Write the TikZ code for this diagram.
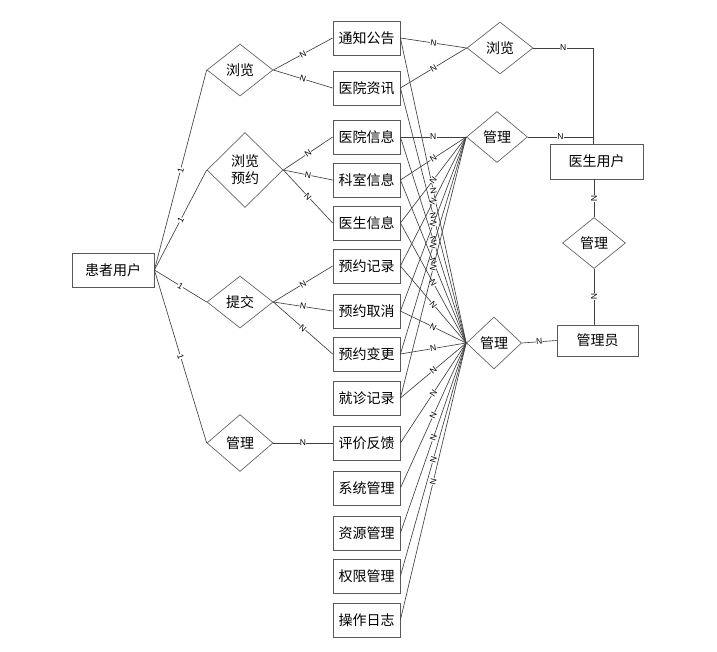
\documentclass[tikz,border=0pt]{standalone}
\usepackage{fontspec}
\setmainfont{Noto Sans CJK SC}
\newfontfamily\lblfont{Liberation Sans}
\usetikzlibrary{shapes.geometric}

\begin{document}
\begin{tikzpicture}[
  x=1pt, y=-1pt,
  every node/.style={font=\fontsize{14}{16}\selectfont},
  entity/.style={draw=black!65, line width=0.8pt, minimum width=67pt, minimum height=34pt, inner sep=0pt},
  rel/.style={diamond, draw=black!60, line width=0.7pt, minimum width=66pt, minimum height=52pt, inner sep=0pt, align=center},
  link/.style={draw=black!75, line width=0.65pt},
  card/.style={font=\lblfont\fontsize{8.5}{9}\selectfont, fill=white, inner sep=0.3pt, sloped, pos=0.5}
]
\useasboundingbox (0,0) rectangle (717,652);

\node[entity, minimum width=82pt](patient) at (113,270){患者用户};

\node[rel](browseP) at (240,70){浏览};
\node[rel, minimum width=76pt, minimum height=75pt](browseB) at (245,170){浏览\\[1pt]预约};
\node[rel](submit) at (240,302){提交};
\node[rel, minimum height=57pt](manageP) at (240,443){管理};

\node[entity](notice) at (366.5,38){通知公告};
\node[entity](news) at (366.5,88){医院资讯};
\node[entity](hospinfo) at (366.5,137){医院信息};
\node[entity](deptinfo) at (366.5,180){科室信息};
\node[entity](docinfo) at (366.5,223){医生信息};
\node[entity](apptrec) at (366.5,266){预约记录};
\node[entity](apptcancel) at (366.5,311){预约取消};
\node[entity](apptchange) at (366.5,354){预约变更};
\node[entity](visitrec) at (366.5,398){就诊记录};
\node[entity](feedback) at (366.5,443){评价反馈};
\node[entity](sysmgmt) at (366.5,488){系统管理};
\node[entity](resmgmt) at (366.5,533){资源管理};
\node[entity](permmgmt) at (366.5,576){权限管理};
\node[entity](oplog) at (366.5,620){操作日志};

\node[rel](browseD) at (500,48){浏览};
\node[rel, minimum width=61pt, minimum height=51pt](manageD) at (497,137){管理};
\node[rel, minimum width=55pt](manageA) at (494,343){管理};

\node[entity, minimum width=93pt, minimum height=35pt](doctor) at (596.5,161.5){医生用户};
\node[rel, minimum width=63pt, minimum height=51pt](manageDA) at (594,243){管理};
\node[entity, minimum width=81pt, minimum height=31pt](admin) at (597.5,340.5){管理员};
\coordinate (docjoin) at ([xshift=-3.5pt]doctor.north);

\draw[link] (patient.east) -- node[card]{1} (browseP.west);
\draw[link] (patient.east) -- node[card]{1} (browseB.west);
\draw[link] (patient.east) -- node[card]{1} (submit.west);
\draw[link] (patient.east) -- node[card]{1} (manageP.west);

\draw[link] (browseP.east) -- node[card]{N} (notice.west);
\draw[link] (browseP.east) -- node[card]{N} (news.west);
\draw[link] (browseB.east) -- node[card]{N} (hospinfo.west);
\draw[link] (browseB.east) -- node[card]{N} (deptinfo.west);
\draw[link] (browseB.east) -- node[card]{N} (docinfo.west);
\draw[link] (submit.east) -- node[card]{N} (apptrec.west);
\draw[link] (submit.east) -- node[card]{N} (apptcancel.west);
\draw[link] (submit.east) -- node[card]{N} (apptchange.west);
\draw[link] (manageP.east) -- node[card]{N} (feedback.west);

\draw[link] (notice.east) -- node[card]{N} (manageA.west);
\draw[link] (news.east) -- node[card]{N} (manageA.west);
\draw[link] (hospinfo.east) -- node[card]{N} (manageA.west);
\draw[link] (deptinfo.east) -- node[card]{N} (manageA.west);
\draw[link] (docinfo.east) -- node[card]{N} (manageA.west);
\draw[link] (apptrec.east) -- node[card]{N} (manageA.west);
\draw[link] (apptcancel.east) -- node[card]{N} (manageA.west);
\draw[link] (apptchange.east) -- node[card]{N} (manageA.west);
\draw[link] (visitrec.east) -- node[card]{N} (manageA.west);
\draw[link] (feedback.east) -- node[card]{N} (manageA.west);
\draw[link] (sysmgmt.east) -- node[card]{N} (manageA.west);
\draw[link] (resmgmt.east) -- node[card]{N} (manageA.west);
\draw[link] (permmgmt.east) -- node[card]{N} (manageA.west);
\draw[link] (oplog.east) -- node[card]{N} (manageA.west);

\draw[link] (hospinfo.east) -- node[card]{N} (manageD.west);
\draw[link] (deptinfo.east) -- node[card]{N} (manageD.west);
\draw[link] (docinfo.east) -- node[card]{N} (manageD.west);
\draw[link] (apptrec.east) -- node[card]{N} (manageD.west);
\draw[link] (apptcancel.east) -- node[card]{N} (manageD.west);
\draw[link] (apptchange.east) -- node[card]{N} (manageD.west);
\draw[link] (visitrec.east) -- node[card]{N} (manageD.west);

\draw[link] (notice.east) -- node[card]{N} (browseD.west);
\draw[link] (news.east) -- node[card]{N} (browseD.west);

\draw[link] (browseD.east) -| node[card, pos=0.25]{N} (docjoin);
\draw[link] (manageD.east) -- node[card]{N} (manageD.east -| docjoin);
\draw[link] (manageDA.north |- doctor.south) -- node[card]{N} (manageDA.north);
\draw[link] (manageDA.south) -- node[card]{N} (manageDA.south |- admin.north);
\draw[link] (manageA.east) -- node[card]{N} (admin.west);

\end{tikzpicture}
\end{document}
